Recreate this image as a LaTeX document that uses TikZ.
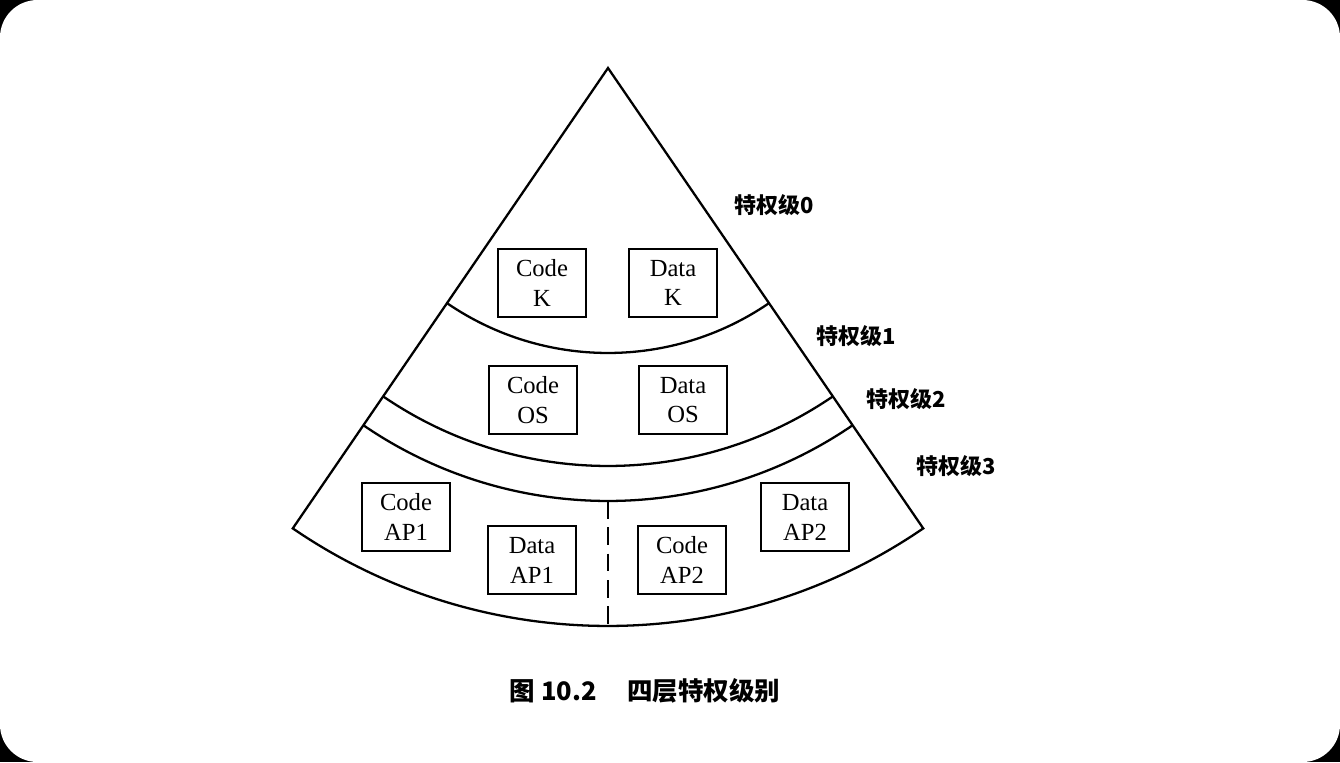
\documentclass[tikz,border=0pt]{standalone}
\usepackage{fontspec}
\setmainfont{Liberation Serif}
\newfontfamily\cjk{Noto Sans CJK SC}
\usetikzlibrary{positioning, calc}

\begin{document}
\begin{tikzpicture}[
  seg/.style={draw, line width=1.3pt, minimum width=1.76cm, minimum height=1.36cm, align=center, inner sep=2pt, font=\fontsize{14}{17}\selectfont},
  ring/.style={line width=1.3pt},
  lvl/.style={font=\cjk\fontsize{12.5}{14}\selectfont\bfseries, inner sep=0pt}
]
  % frame
  \fill[black] (-12.16, 1.36) rectangle (14.64, -13.88);
  \fill[white, rounded corners=0.75cm] (-12.16, 1.36) rectangle (14.64, -13.88);
  \useasboundingbox (-12.16, 1.36) rectangle (14.64, -13.88);

  % sector with its rings, all centred on the apex
  \coordinate (apex) at (0, 0);
  \draw[ring] (apex) -- (-124.4:11.16) arc[start angle=-124.4, end angle=-55.6, radius=11.16] -- cycle;
  \draw[ring] (-124.4:5.70) arc[start angle=-124.4, end angle=-55.6, radius=5.70];
  \draw[ring] (-124.4:7.96) arc[start angle=-124.4, end angle=-55.6, radius=7.96];
  \draw[ring] (-124.4:8.66) arc[start angle=-124.4, end angle=-55.6, radius=8.66];
  \coordinate (splittop) at (-90:8.66);
  \coordinate (splitbot) at (-90:11.16);
  \draw[ring, dash pattern=on 10pt off 5pt] (splittop) -- (splitbot);

  \node[seg] (codek) at (-1.32, -4.30) {Code\\K};
  \node[seg] (datak) at (1.30, -4.30) {Data\\K};
  \node[seg] (codeos) at (-1.50, -6.64) {Code\\OS};
  \node[seg] (dataos) at (1.50, -6.64) {Data\\OS};
  \node[seg] (codeap1) at (-4.04, -8.98) {Code\\AP1};
  \node[seg] (dataap1) at (-1.52, -9.84) {Data\\AP1};
  \node[seg] (codeap2) at (1.48, -9.84) {Code\\AP2};
  \node[seg] (dataap2) at (3.94, -8.98) {Data\\AP2};

  \node[lvl] (lvl0) at (3.32, -2.74) {特权级0};
  \node[lvl] (lvl1) at (4.96, -5.36) {特权级1};
  \node[lvl] (lvl2) at (5.96, -6.62) {特权级2};
  \node[lvl] (lvl3) at (6.96, -7.96) {特权级3};

  \node[font=\cjk\fontsize{14.5}{16}\selectfont\bfseries] (caption) at (0.74, -12.46) {图 10.2\hspace{1.2em}四层特权级别};
\end{tikzpicture}
\end{document}
